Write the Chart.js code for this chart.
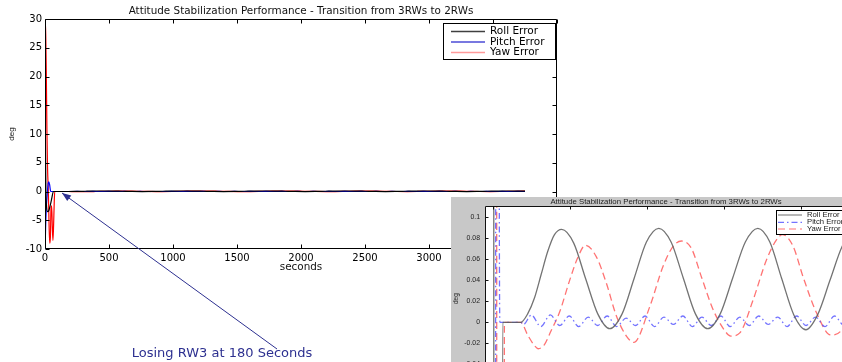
<!DOCTYPE html>
<html>
<head>
<meta charset="utf-8">
<title>Attitude Stabilization Performance</title>
<script src="https://cdn.jsdelivr.net/npm/chart.js@4.4.1/dist/chart.umd.min.js"></script>
<style>
  html, body { margin: 0; padding: 0; background: #fff; }
  body { width: 842px; height: 362px; overflow: hidden; position: relative; }
  #mainBox { position: absolute; left: 0; top: 0; width: 842px; height: 362px; }
  #insetBox { position: absolute; left: 451px; top: 197px; width: 440px; height: 215px; background: #c8c8c8; }
</style>
</head>
<body>
<div id="mainBox"><canvas id="mainChart"></canvas></div>
<div id="insetBox"><canvas id="insetChart"></canvas></div>
<script>
'use strict';

// time in seconds, errors in deg
let rollTime = [0, 3, 7, 12, 20, 30, 40, 50, 58, 65, 80, 182, 227, 271, 314, 357, 401, 448, 526, 604, 682, 760,
  840, 919, 998, 1078, 1158, 1237, 1316, 1396, 1477, 1558, 1640, 1721, 1799, 1877, 1955, 2033, 2112, 2190, 2269, 2348,
  2426, 2504, 2582, 2660, 2739, 2817, 2896, 2974, 3054, 3135, 3215, 3295, 3375, 3455, 3535, 3615, 3682, 3750];
let rollError = [17.5, 10, 0, -2.5, -3.5, -3.3, -2.5, -1.5, -0.6, 0, 0, 0, 0.008, 0.023, 0.045, 0.067, 0.083, 0.088, 0.075, 0.041, 0.008, -0.006,
  0.008, 0.042, 0.076, 0.089, 0.076, 0.042, 0.008, -0.006, 0.008, 0.042, 0.076, 0.089, 0.076, 0.041, 0.007, -0.007, 0.008, 0.040, 0.072, 0.088,
  0.075, 0.041, 0.007, -0.006, 0.008, 0.041, 0.075, 0.089, 0.075, 0.041, 0.008, -0.006, 0.008, 0.041, 0.075, 0.088, 0.079, 0.055];

let pitchTime = [0, 5, 10, 19, 25, 30, 36, 43, 47, 60, 182, 200,
  251, 312, 374, 435, 497, 558, 620, 681, 743, 804,
  866, 927, 989, 1050, 1112, 1173, 1235, 1296, 1358, 1419,
  1481, 1542, 1604, 1665, 1727, 1788, 1850, 1911, 1973, 2034,
  2096, 2157, 2219, 2280, 2342, 2403, 2465, 2526, 2588, 2649,
  2711, 2772, 2834, 2895, 2957, 3018, 3080, 3141, 3203, 3264,
  3326, 3387, 3449, 3510, 3572, 3633, 3695, 3750];
let pitchError = [-10.8, -6, -3, 0, 1.4, 1.7, 1.2, 0.1, 0, 0, 0, -0.002,
  0.007, -0.004, 0.007, -0.003, 0.006, -0.004, 0.005, -0.003, 0.006, -0.004,
  0.004, -0.003, 0.006, -0.004, 0.005, -0.002, 0.006, -0.004, 0.005, -0.003,
  0.006, -0.004, 0.005, -0.003, 0.006, -0.002, 0.005, -0.004, 0.006, -0.003,
  0.005, -0.004, 0.006, -0.003, 0.005, -0.004, 0.005, -0.003, 0.006, -0.004,
  0.005, -0.003, 0.006, -0.004, 0.005, -0.003, 0.006, -0.004, 0.005, -0.003,
  0.006, -0.004, 0.005, -0.003, 0.006, -0.004, 0.006, 0.001];

let yawTime = [0, 3, 6, 10, 15, 20, 26, 31, 37, 42, 47, 52, 57, 62, 67, 72, 76, 182,
  227, 271, 296, 336, 379, 435, 500, 554, 602, 673, 738, 803, 868, 916,
  1020, 1106, 1171, 1225, 1290, 1355, 1431, 1507, 1545, 1604, 1690, 1777, 1842, 1881, 1950, 2015,
  2102, 2195, 2266, 2350, 2430, 2510, 2590, 2670, 2750, 2830, 2910, 2995, 3080, 3160, 3240, 3320,
  3400, 3480, 3560, 3650, 3750];
let yawError = [26, 29.5, 27, 21, 10.5, 4, 0, -5, -9, -8, -3, -2.5, -6, -8.5, -6, -2, 0, 0,
  -0.012, -0.022, -0.025, -0.021, -0.008, 0.010, 0.040, 0.062, 0.073, 0.062, 0.037, 0.006, -0.013, -0.019,
  0.015, 0.053, 0.072, 0.077, 0.070, 0.043, 0.012, -0.008, -0.013, -0.010, 0.021, 0.059, 0.078, 0.083, 0.072, 0.043,
  0.009, -0.012, -0.007, 0.030, 0.068, 0.080, 0.065, 0.030, -0.002, -0.012, 0.005, 0.040, 0.070, 0.081, 0.068, 0.033,
  0.000, -0.012, 0.003, 0.035, 0.066];

let mainXTicks = [0, 500, 1000, 1500, 2000, 2500, 3000, 3500, 4000];
let mainYTicks = [-10, -5, 0, 5, 10, 15, 20, 25, 30];
let insetXTicks = [0, 500, 1000, 1500, 2000];
let insetYTicks = [-0.06, -0.04, -0.02, 0, 0.02, 0.04, 0.06, 0.08, 0.1];

let seriesNames = ['Roll Error', 'Pitch Error', 'Yaw Error'];
let chartTitle = 'Attitude Stabilization Performance - Transition from 3RWs to 2RWs';
let noteText = 'Losing RW3 at 180 Seconds';

function toPoints(times, values) {
  return times.map(function (t, i) {
    return { x: t, y: values[i] };
  });
}

// matlab style box with inward ticks on all four sides
let axesBox = {
  id: 'axesBox',
  afterDatasetsDraw(chart, args, opts) {
    let ctx = chart.ctx;
    let a = chart.chartArea;
    let xs = chart.scales.x;
    let ys = chart.scales.y;
    let len = opts.tickLength;
    let l = Math.round(a.left) + 0.5;
    let r = Math.round(a.right) - 0.5;
    let t = Math.round(a.top) + 0.5;
    let b = Math.round(a.bottom) - 0.5;
    ctx.save();
    ctx.strokeStyle = opts.color;
    ctx.lineWidth = 1;
    ctx.beginPath();
    ctx.rect(l, t, r - l, b - t);
    xs.ticks.forEach(function (tk) {
      let px = Math.round(xs.getPixelForValue(tk.value)) + 0.5;
      ctx.moveTo(px, b); ctx.lineTo(px, b - len);
      ctx.moveTo(px, t); ctx.lineTo(px, t + len);
    });
    ys.ticks.forEach(function (tk) {
      let py = Math.round(ys.getPixelForValue(tk.value)) + 0.5;
      ctx.moveTo(l, py); ctx.lineTo(l + len, py);
      ctx.moveTo(r, py); ctx.lineTo(r - len, py);
    });
    ctx.stroke();
    ctx.restore();
  }
};

function drawLegend(chart, box) {
  let ctx = chart.ctx;
  ctx.save();
  ctx.fillStyle = '#fff';
  ctx.fillRect(box.x, box.y, box.w, box.h);
  ctx.strokeStyle = '#000';
  ctx.lineWidth = 1;
  ctx.strokeRect(box.x + 0.5, box.y + 0.5, box.w, box.h);
  ctx.font = box.font;
  ctx.textBaseline = 'middle';
  ctx.textAlign = 'left';
  chart.data.datasets.forEach(function (ds, i) {
    let y = box.rowY[i];
    ctx.strokeStyle = box.colors[i];
    ctx.lineWidth = box.lineWidth;
    ctx.setLineDash(ds.borderDash || []);
    ctx.beginPath();
    ctx.moveTo(box.lineX0, y);
    ctx.lineTo(box.lineX1, y);
    ctx.stroke();
    ctx.setLineDash([]);
    ctx.fillStyle = box.textColor;
    ctx.fillText(ds.label, box.textX, y);
  });
  ctx.restore();
}

let mainDecor = {
  id: 'mainDecor',
  afterDraw(chart) {
    let ctx = chart.ctx;
    let a = chart.chartArea;
    let cx = (a.left + a.right) / 2;
    ctx.save();
    ctx.fillStyle = '#111';
    ctx.textAlign = 'center';
    ctx.textBaseline = 'middle';
    ctx.font = '10.4px "DejaVu Sans"';
    ctx.fillText(chartTitle, cx, 11);
    ctx.fillText('seconds', cx, 267);
    ctx.save();
    ctx.translate(12, (a.top + a.bottom) / 2);
    ctx.rotate(-Math.PI / 2);
    ctx.font = '8px "Liberation Sans"';
    ctx.fillText('deg', 0, 0);
    ctx.restore();

    drawLegend(chart, {
      x: 443, y: 23, w: 112, h: 36,
      rowY: [31.5, 42, 52.5], lineX0: 451, lineX1: 485, textX: 490,
      font: '10.5px "DejaVu Sans"', textColor: '#000', lineWidth: 1.3,
      colors: ['#404040', '#4b4bd6', '#ff9a9a']
    });

    // annotation arrow pointing at the zero line
    let tipX = 62, tipY = 193, tailX = 277, tailY = 349;
    let ang = Math.atan2(tipY - tailY, tipX - tailX);
    ctx.strokeStyle = '#2d3090';
    ctx.fillStyle = '#2d3090';
    ctx.lineWidth = 1;
    ctx.beginPath();
    ctx.moveTo(tailX, tailY);
    ctx.lineTo(tipX, tipY);
    ctx.stroke();
    ctx.beginPath();
    ctx.moveTo(tipX, tipY);
    ctx.lineTo(tipX - 9 * Math.cos(ang) + 3.5 * Math.sin(ang), tipY - 9 * Math.sin(ang) - 3.5 * Math.cos(ang));
    ctx.lineTo(tipX - 9 * Math.cos(ang) - 3.5 * Math.sin(ang), tipY - 9 * Math.sin(ang) + 3.5 * Math.cos(ang));
    ctx.closePath();
    ctx.fill();
    ctx.font = '13px "DejaVu Sans"';
    ctx.fillText(noteText, 222, 354);
    ctx.restore();
  }
};

let insetDecor = {
  id: 'insetDecor',
  beforeDraw(chart) {
    let a = chart.chartArea;
    chart.ctx.save();
    chart.ctx.fillStyle = '#fff';
    chart.ctx.fillRect(a.left, a.top, a.right - a.left, a.bottom - a.top);
    chart.ctx.restore();
  },
  afterDraw(chart) {
    let ctx = chart.ctx;
    let a = chart.chartArea;
    ctx.save();
    ctx.fillStyle = '#222';
    ctx.textAlign = 'center';
    ctx.textBaseline = 'middle';
    ctx.font = '7.8px "Liberation Sans"';
    ctx.fillText(chartTitle, (a.left + a.right) / 2, 5);
    ctx.save();
    ctx.translate(5, (a.top + a.bottom) / 2);
    ctx.rotate(-Math.PI / 2);
    ctx.font = '6.5px "Liberation Sans"';
    ctx.fillText('deg', 0, 0);
    ctx.restore();
    drawLegend(chart, {
      x: 325, y: 13, w: 70, h: 24,
      rowY: [18, 25.3, 32], lineX0: 327, lineX1: 351, textX: 356,
      font: '7.7px "Liberation Sans"', textColor: '#222', lineWidth: 1.2,
      colors: ['#888', 'rgba(80,80,255,0.8)', 'rgba(255,90,90,0.85)']
    });
    ctx.restore();
  }
};

function buildDatasets(styles) {
  let times = [rollTime, pitchTime, yawTime];
  let values = [rollError, pitchError, yawError];
  return seriesNames.map(function (name, i) {
    return {
      label: name,
      data: toPoints(times[i], values[i]),
      borderColor: styles[i].color,
      borderWidth: styles[i].width,
      borderDash: styles[i].dash,
      pointRadius: 0,
      fill: false
    };
  });
}

function tickFormat(v) {
  return String(v);
}

let mainFont = { family: 'DejaVu Sans', size: 10 };

new Chart(document.getElementById('mainChart'), {
  type: 'line',
  data: {
    datasets: buildDatasets([
      { color: '#000000', width: 1.2, dash: [] },
      { color: '#0000ff', width: 1.2, dash: [] },
      { color: '#ff0000', width: 1.2, dash: [] }
    ])
  },
  options: {
    responsive: true,
    maintainAspectRatio: false,
    animation: false,
    events: [],
    elements: { line: { cubicInterpolationMode: 'monotone' } },
    layout: { padding: { top: 19, right: 285, left: 0, bottom: 0 } },
    scales: {
      x: {
        type: 'linear', min: 0, max: 4000,
        afterBuildTicks: function (s) { s.ticks = mainXTicks.map(function (v) { return { value: v }; }); },
        afterFit: function (s) { s.height = 113; },
        grid: { display: false, drawTicks: false }, border: { display: false },
        ticks: { font: mainFont, color: '#000', padding: 3, maxRotation: 0, autoSkip: false, callback: tickFormat }
      },
      y: {
        type: 'linear', min: -10, max: 30,
        afterBuildTicks: function (s) { s.ticks = mainYTicks.map(function (v) { return { value: v }; }); },
        afterFit: function (s) { s.width = 45; },
        grid: { display: false, drawTicks: false }, border: { display: false },
        ticks: { font: mainFont, color: '#000', padding: 3, autoSkip: false, callback: tickFormat }
      }
    },
    plugins: {
      legend: { display: false },
      tooltip: { enabled: false },
      axesBox: { tickLength: 4, color: '#000' }
    }
  },
  plugins: [axesBox, mainDecor]
});

let insetFont = { family: 'Liberation Sans', size: 6.9 };

new Chart(document.getElementById('insetChart'), {
  type: 'line',
  data: {
    datasets: buildDatasets([
      { color: 'rgba(90,90,90,0.85)', width: 1.3, dash: [] },
      { color: 'rgba(80,80,255,0.8)', width: 1.3, dash: [6, 3, 1.5, 3] },
      { color: 'rgba(255,90,90,0.85)', width: 1.3, dash: [7, 4] }
    ])
  },
  options: {
    responsive: true,
    maintainAspectRatio: false,
    animation: false,
    events: [],
    elements: { line: { cubicInterpolationMode: 'monotone' } },
    layout: { padding: { top: 9, right: 44, left: 0, bottom: 0 } },
    scales: {
      x: {
        type: 'linear', min: -50, max: 2300,
        afterBuildTicks: function (s) { s.ticks = insetXTicks.map(function (v) { return { value: v }; }); },
        afterFit: function (s) { s.height = 21; },
        grid: { display: false, drawTicks: false }, border: { display: false },
        ticks: { font: insetFont, color: '#222', padding: 2, maxRotation: 0, autoSkip: false, callback: tickFormat }
      },
      y: {
        type: 'linear', min: -0.065, max: 0.11,
        afterBuildTicks: function (s) { s.ticks = insetYTicks.map(function (v) { return { value: v }; }); },
        afterFit: function (s) { s.width = 34; },
        grid: { display: false, drawTicks: false }, border: { display: false },
        ticks: { font: insetFont, color: '#222', padding: 5, autoSkip: false, callback: tickFormat }
      }
    },
    plugins: {
      legend: { display: false },
      tooltip: { enabled: false },
      axesBox: { tickLength: 3, color: '#111' }
    }
  },
  plugins: [axesBox, insetDecor]
});
</script>
</body>
</html>
